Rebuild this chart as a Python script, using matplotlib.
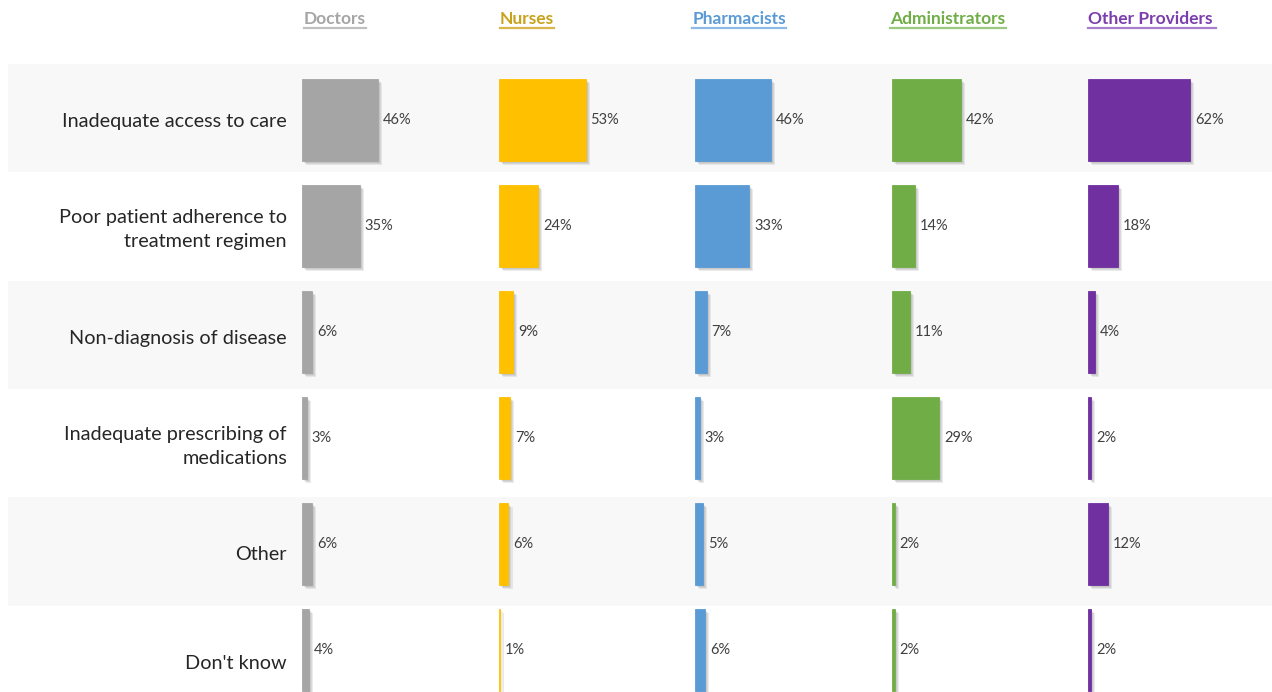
import numpy as np
import matplotlib.pyplot as plt
import matplotlib.patheffects as pe
from matplotlib.transforms import blended_transform_factory

plt.rcParams['font.family'] = ['Lato', 'DejaVu Sans']

categories = ['Inadequate access to care',
              'Poor patient adherence to\ntreatment regimen',
              'Non-diagnosis of disease',
              'Inadequate prescribing of\nmedications',
              'Other',
              "Don't know"]
groups = ['Doctors', 'Nurses', 'Pharmacists', 'Administrators', 'Other Providers ']

doctors = [46, 35, 6, 3, 6, 4]
nurses = [53, 24, 9, 7, 6, 1]
pharmacists = [46, 33, 7, 3, 5, 6]
administrators = [42, 14, 11, 29, 2, 2]
other_providers = [62, 18, 4, 2, 12, 2]
values = [doctors, nurses, pharmacists, administrators, other_providers]

bar_colors = ['#a5a5a5', '#ffc000', '#5b9bd5', '#70ad47', '#7030a0']
head_colors = ['#a5a5a5', '#c9a21c', '#5b9bd5', '#70ad47', '#7b3fad']
line_colors = ['#c0c0c0', '#d8b64a', '#8dbbe6', '#9bc97f', '#a67fcb']
head_x = [335, 527, 739, 948, 1152]

W, H = 1272, 692
fig = plt.figure(figsize=(W / 100, H / 100), dpi=100)

# background bands + category labels
bg = fig.add_axes([8 / W, 1 - 714 / H, 1 - 8 / W, 650 / H])
rows = np.arange(len(categories))
bg.barh(rows[::2], 1, height=1, left=0, color='#f8f8f8')
bg.set_xlim(0, 1)
bg.set_ylim(5.5, -0.5)
bg.axis('off')
tr = blended_transform_factory(fig.transFigure, bg.transData)
for i, cat in enumerate(categories):
    bg.text(287 / W, i + 0.03, cat, transform=tr, ha='right', va='center',
            fontsize=14.3, color='#262626', linespacing=1.5)

# soft shadow, built from a few faint offset copies
shadow = [pe.SimplePatchShadow(offset=(o, -o), alpha=0.1, shadow_rgbFace='#404040')
          for o in (3, 2.2, 1.5)] + [pe.Normal()]

# one small panel per group
px_per_pct = 1.645
for j, (vals, col) in enumerate(zip(values, bar_colors)):
    ax = fig.add_axes([(302 + 196.5 * j) / W, 1 - 703 / H, 196.5 / W, 636 / H])
    ax.patch.set_visible(False)
    bars = ax.barh(rows, vals, height=0.77, color=col, edgecolor=col, linewidth=0.6)
    for b in bars:
        b.set_path_effects(shadow)
    for i, v in enumerate(vals):
        ax.text(v + 3, i, f'{v}%', ha='left', va='center', fontsize=10.5, color='#404040')
    ax.set_xlim(0, 196.5 / px_per_pct)
    ax.set_ylim(5.5, -0.5)
    ax.axis('off')

# underlined headers
renderer = fig.canvas.get_renderer()
for name, x, c, lc in zip(groups, head_x, head_colors, line_colors):
    t = fig.text(x / W, 1 - 24 / H, name, ha='center', va='baseline',
                 fontsize=12.5, fontweight='bold', color=c)
    bb = t.get_window_extent(renderer)
    fig.add_artist(plt.Line2D([bb.x0 / W, bb.x1 / W], [1 - 28 / H, 1 - 28 / H],
                              transform=fig.transFigure, color=lc, lw=1.6))

fig.savefig('out.png', dpi=100)
